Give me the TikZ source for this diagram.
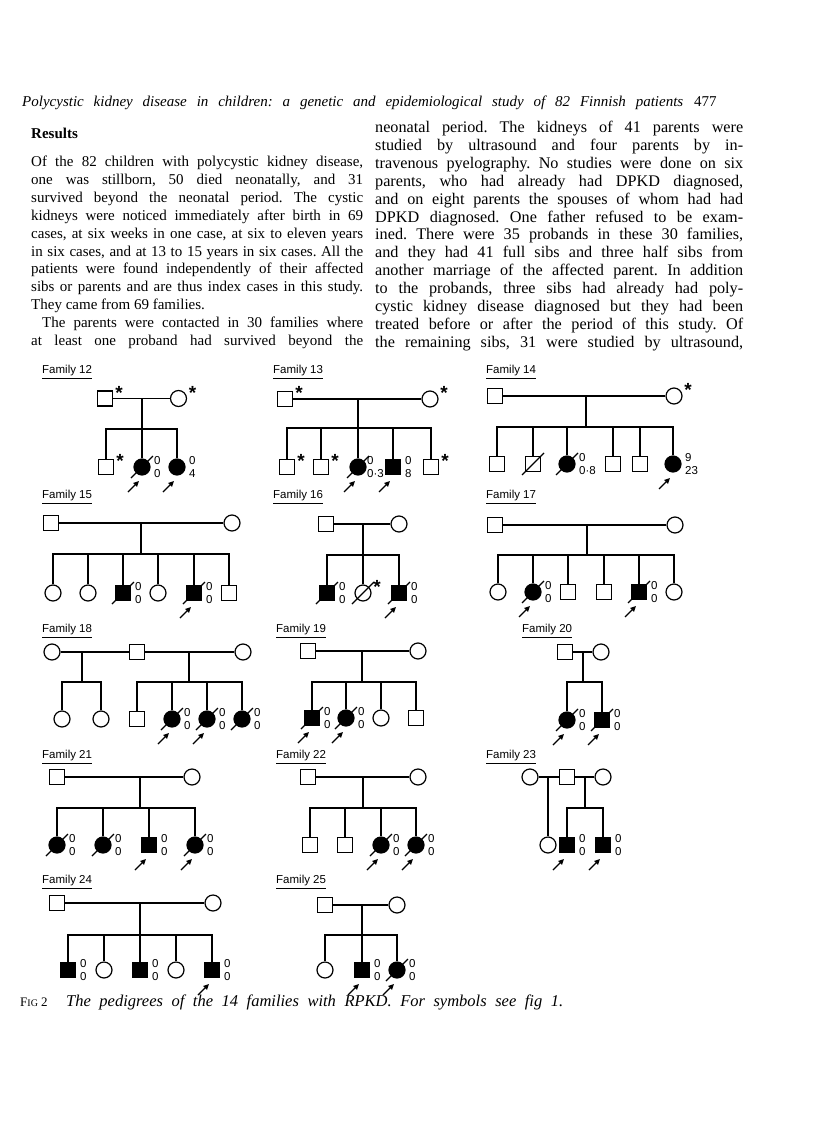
\documentclass[tikz,border=0pt]{standalone}
\usepackage{fontspec}
\setmainfont{Liberation Serif}
\newfontfamily\numfont{Liberation Sans}
\usetikzlibrary{calc,arrows.meta}
\newcommand\dcs[1]{\draw[pline] ($(#1.center)+(-11,11)$) -- ($(#1.center)+(11,-11)$);}
\newcommand\prb[1]{\draw[prob] ($(#1.center)+(-14,25)$) -- ($(#1.center)+(-3,14)$);}
\newcommand\nm[3]{\node[nums] (#1n) at ($(#1.center)+(12,0)$) {#2\\#3};}
\newcommand\str[1]{\node[star] (#1s) at ($(#1.center)+(14,-6)$) {*};}
\frenchspacing
\begin{document}
\begin{tikzpicture}[x=1pt,y=-1pt,
  male/.style={draw, line width=1.2pt, rectangle, minimum size=15pt, inner sep=0pt},
  female/.style={draw, line width=1.2pt, circle, minimum size=16pt, inner sep=0pt},
  aff/.style={fill=black},
  pline/.style={line width=1.2pt},
  prob/.style={line width=1.2pt, -{Triangle[length=5.5pt,width=5pt]}},
  nums/.style={font=\numfont\fontsize{11.5}{13}\selectfont, align=left, anchor=west, inner sep=0pt},
  star/.style={font=\numfont\bfseries\fontsize{19}{19}\selectfont, inner sep=0pt},
  fam/.style={font=\numfont\fontsize{11.5}{12}\selectfont, anchor=west, inner sep=0pt},
  btext/.style={font=\fontsize{15}{18}\selectfont, anchor=base west, inner sep=0pt},
  rtext/.style={font=\fontsize{16.2}{18}\selectfont, anchor=base west, inner sep=0pt},
  hdr/.style={font=\itshape\fontsize{15}{18}\selectfont, anchor=base west, inner sep=0pt}]
\fill[white] (0,0) rectangle (816,1142);
\useasboundingbox (0,0) rectangle (816,1142);

% header
\node[hdr] (head) at (22,107) {\makebox[661pt][s]{Polycystic kidney disease in children: a genetic and epidemiological study of 82 Finnish patients}};
\node[hdr, font=\fontsize{15}{18}\selectfont] (pageno) at (694,107) {477};

% left column
\node[btext, font=\bfseries\fontsize{15}{18}\selectfont] (res) at (31,139) {Results};
\node[btext] (L1) at (31,166.5) {\makebox[332pt][s]{Of the 82 children with polycystic kidney disease,}};
\node[btext] (L2) at (31,184.4) {\makebox[332pt][s]{one was stillborn, 50 died neonatally, and 31}};
\node[btext] (L3) at (31,202.3) {\makebox[332pt][s]{survived beyond the neonatal period. The cystic}};
\node[btext] (L4) at (31,220.2) {\makebox[332pt][s]{kidneys were noticed immediately after birth in 69}};
\node[btext] (L5) at (31,238.1) {\makebox[332pt][s]{cases, at six weeks in one case, at six to eleven years}};
\node[btext] (L6) at (31,256.0) {\makebox[332pt][s]{in six cases, and at 13 to 15 years in six cases. All the}};
\node[btext] (L7) at (31,273.9) {\makebox[332pt][s]{patients were found independently of their affected}};
\node[btext] (L8) at (31,291.8) {\makebox[332pt][s]{sibs or parents and are thus index cases in this study.}};
\node[btext] (L9) at (31,309.7) {They came from 69 families.};
\node[btext] (L10) at (31,327.6) {\makebox[332pt][s]{\hspace{11pt}The parents were contacted in 30 families where}};
\node[btext] (L11) at (31,345.5) {\makebox[332pt][s]{at least one proband had survived beyond the}};

% right column
\node[rtext] (R1) at (375,132.5) {\makebox[368pt][s]{neonatal period. The kidneys of 41 parents were}};
\node[rtext] (R2) at (375,150.4) {\makebox[368pt][s]{studied by ultrasound and four parents by in-}};
\node[rtext] (R3) at (375,168.3) {\makebox[368pt][s]{travenous pyelography. No studies were done on six}};
\node[rtext] (R4) at (375,186.2) {\makebox[368pt][s]{parents, who had already had DPKD diagnosed,}};
\node[rtext] (R5) at (375,204.1) {\makebox[368pt][s]{and on eight parents the spouses of whom had had}};
\node[rtext] (R6) at (375,222.0) {\makebox[368pt][s]{DPKD diagnosed. One father refused to be exam-}};
\node[rtext] (R7) at (375,239.9) {\makebox[368pt][s]{ined. There were 35 probands in these 30 families,}};
\node[rtext] (R8) at (375,257.8) {\makebox[368pt][s]{and they had 41 full sibs and three half sibs from}};
\node[rtext] (R9) at (375,275.7) {\makebox[368pt][s]{another marriage of the affected parent. In addition}};
\node[rtext] (R10) at (375,293.6) {\makebox[368pt][s]{to the probands, three sibs had already had poly-}};
\node[rtext] (R11) at (375,311.5) {\makebox[368pt][s]{cystic kidney disease diagnosed but they had been}};
\node[rtext] (R12) at (375,329.4) {\makebox[368pt][s]{treated before or after the period of this study. Of}};
\node[rtext] (R13) at (375,347.3) {\makebox[368pt][s]{the remaining sibs, 31 were studied by ultrasound,}};

% ---------------- Family 12
\node[fam] (t12) at (42,372) {\underline{Family 12}};
\node[male] (f12) at (105,398.5) {}; \str{f12}
\node[female] (m12) at (178.5,398.5) {}; \str{m12}
\coordinate (d12) at (142,398.5); \coordinate (s12) at (142,429);
\draw[pline] (f12) -- (m12); \draw[pline] (d12) -- (s12);
\node[male] (c12a) at (106,467) {}; \str{c12a}
\node[female,aff] (c12b) at (142,467) {}; \dcs{c12b} \nm{c12b}{0}{0} \prb{c12b}
\node[female,aff] (c12c) at (177,467) {}; \nm{c12c}{0}{4} \prb{c12c}
\draw[pline] (c12a) |- (s12) -| (c12c); \draw[pline] (c12b) -- (c12b |- s12);

% ---------------- Family 13
\node[fam] (t13) at (273,372) {\underline{Family 13}};
\node[male] (f13) at (285,399) {}; \str{f13}
\node[female] (m13) at (430,399) {}; \str{m13}
\coordinate (d13) at (358,399); \coordinate (s13) at (358,428);
\draw[pline] (f13) -- (m13); \draw[pline] (d13) -- (s13);
\node[male] (c13a) at (287,467) {}; \str{c13a}
\node[male] (c13b) at (321,467) {}; \str{c13b}
\node[female,aff] (c13c) at (358,467) {}; \dcs{c13c} \node[nums] (c13cn) at ($(c13c.center)+(9,0)$) {0\\0·3}; \prb{c13c}
\node[male,aff] (c13d) at (393,467) {}; \nm{c13d}{0}{8} \prb{c13d}
\node[male] (c13e) at (431,467) {}; \str{c13e}
\draw[pline] (c13a) |- (s13) -| (c13e);
\foreach \k in {b,c,d} \draw[pline] (c13\k) -- (c13\k |- s13);

% ---------------- Family 14
\node[fam] (t14) at (486,372) {\underline{Family 14}};
\node[male] (f14) at (495,396) {};
\node[female] (m14) at (674,396) {}; \str{m14}
\coordinate (d14) at (586,396); \coordinate (s14) at (586,427);
\draw[pline] (f14) -- (m14); \draw[pline] (d14) -- (s14);
\node[male] (c14a) at (497,464) {};
\node[male] (c14b) at (533,464) {}; \dcs{c14b}
\node[female,aff] (c14c) at (567,464) {}; \dcs{c14c} \nm{c14c}{0}{0·8}
\node[male] (c14d) at (613,464) {};
\node[male] (c14e) at (640,464) {};
\node[female,aff] (c14f) at (673,464) {}; \nm{c14f}{9}{23} \prb{c14f}
\draw[pline] (c14a) |- (s14) -| (c14f);
\foreach \k in {b,c,d,e} \draw[pline] (c14\k) -- (c14\k |- s14);

% ---------------- Family 15
\node[fam] (t15) at (42,497) {\underline{Family 15}};
\node[male] (f15) at (51,523) {};
\node[female] (m15) at (232,523) {};
\coordinate (d15) at (141,523); \coordinate (s15) at (141,554);
\draw[pline] (f15) -- (m15); \draw[pline] (d15) -- (s15);
\node[female] (c15a) at (53,593) {};
\node[female] (c15b) at (88,593) {};
\node[male,aff] (c15c) at (123,593) {}; \dcs{c15c} \nm{c15c}{0}{0}
\node[female] (c15d) at (158,593) {};
\node[male,aff] (c15e) at (194,593) {}; \dcs{c15e} \nm{c15e}{0}{0} \prb{c15e}
\node[male] (c15f) at (229,593) {};
\draw[pline] (c15a) |- (s15) -| (c15f);
\foreach \k in {b,c,d,e} \draw[pline] (c15\k) -- (c15\k |- s15);

% ---------------- Family 16
\node[fam] (t16) at (273,497) {\underline{Family 16}};
\node[male] (f16) at (326,524) {};
\node[female] (m16) at (399,524) {};
\coordinate (d16) at (363,524); \coordinate (s16) at (363,555);
\draw[pline] (f16) -- (m16); \draw[pline] (d16) -- (s16);
\node[male,aff] (c16a) at (327,593) {}; \dcs{c16a} \nm{c16a}{0}{0}
\node[female] (c16b) at (363,593) {}; \dcs{c16b} \str{c16b}
\node[male,aff] (c16c) at (399,593) {}; \dcs{c16c} \nm{c16c}{0}{0} \prb{c16c}
\draw[pline] (c16a) |- (s16) -| (c16c); \draw[pline] (c16b) -- (c16b |- s16);

% ---------------- Family 17
\node[fam] (t17) at (486,497) {\underline{Family 17}};
\node[male] (f17) at (495,525) {};
\node[female] (m17) at (675,525) {};
\coordinate (d17) at (587,525); \coordinate (s17) at (587,555);
\draw[pline] (f17) -- (m17); \draw[pline] (d17) -- (s17);
\node[female] (c17a) at (498,592) {};
\node[female,aff] (c17b) at (533,592) {}; \dcs{c17b} \nm{c17b}{0}{0} \prb{c17b}
\node[male] (c17c) at (568,592) {};
\node[male] (c17d) at (604,592) {};
\node[male,aff] (c17e) at (639,592) {}; \dcs{c17e} \nm{c17e}{0}{0} \prb{c17e}
\node[female] (c17f) at (674,592) {};
\draw[pline] (c17a) |- (s17) -| (c17f);
\foreach \k in {b,c,d,e} \draw[pline] (c17\k) -- (c17\k |- s17);

% ---------------- Family 18
\node[fam] (t18) at (42,631) {\underline{Family 18}};
\node[female] (w18a) at (52,652) {};
\node[male] (h18) at (137,652) {};
\node[female] (w18b) at (243,652) {};
\draw[pline] (w18a) -- (h18); \draw[pline] (h18) -- (w18b);
\coordinate (d18a) at (82,652); \coordinate (s18a) at (82,682);
\coordinate (d18b) at (189,652); \coordinate (s18b) at (189,682);
\draw[pline] (d18a) -- (s18a); \draw[pline] (d18b) -- (s18b);
\node[female] (c18a) at (62,719) {};
\node[female] (c18b) at (101,719) {};
\draw[pline] (c18a) |- (s18a) -| (c18b);
\node[male] (c18c) at (137,719) {};
\node[female,aff] (c18d) at (172,719) {}; \dcs{c18d} \nm{c18d}{0}{0} \prb{c18d}
\node[female,aff] (c18e) at (207,719) {}; \dcs{c18e} \nm{c18e}{0}{0} \prb{c18e}
\node[female,aff] (c18f) at (242,719) {}; \dcs{c18f} \nm{c18f}{0}{0}
\draw[pline] (c18c) |- (s18b) -| (c18f);
\foreach \k in {d,e} \draw[pline] (c18\k) -- (c18\k |- s18b);

% ---------------- Family 19
\node[fam] (t19) at (276,631) {\underline{Family 19}};
\node[male] (f19) at (308,651) {};
\node[female] (m19) at (418,651) {};
\coordinate (d19) at (362,651); \coordinate (s19) at (362,682);
\draw[pline] (f19) -- (m19); \draw[pline] (d19) -- (s19);
\node[male,aff] (c19a) at (312,718) {}; \dcs{c19a} \nm{c19a}{0}{0} \prb{c19a}
\node[female,aff] (c19b) at (346,718) {}; \dcs{c19b} \nm{c19b}{0}{0} \prb{c19b}
\node[female] (c19c) at (381,718) {};
\node[male] (c19d) at (416,718) {};
\draw[pline] (c19a) |- (s19) -| (c19d);
\foreach \k in {b,c} \draw[pline] (c19\k) -- (c19\k |- s19);

% ---------------- Family 20
\node[fam] (t20) at (522,631) {\underline{Family 20}};
\node[male] (f20) at (565,652) {};
\node[female] (m20) at (601,652) {};
\coordinate (d20) at (583,652); \coordinate (s20) at (583,682);
\draw[pline] (f20) -- (m20); \draw[pline] (d20) -- (s20);
\node[female,aff] (c20a) at (567,720) {}; \dcs{c20a} \nm{c20a}{0}{0} \prb{c20a}
\node[male,aff] (c20b) at (602,720) {}; \dcs{c20b} \nm{c20b}{0}{0} \prb{c20b}
\draw[pline] (c20a) |- (s20) -| (c20b);

% ---------------- Family 21
\node[fam] (t21) at (42,757) {\underline{Family 21}};
\node[male] (f21) at (57,777) {};
\node[female] (m21) at (192,777) {};
\coordinate (d21) at (140,777); \coordinate (s21) at (140,808);
\draw[pline] (f21) -- (m21); \draw[pline] (d21) -- (s21);
\node[female,aff] (c21a) at (57,845) {}; \dcs{c21a} \nm{c21a}{0}{0}
\node[female,aff] (c21b) at (103,845) {}; \dcs{c21b} \nm{c21b}{0}{0}
\node[male,aff] (c21c) at (149,845) {}; \nm{c21c}{0}{0} \prb{c21c}
\node[female,aff] (c21d) at (195,845) {}; \dcs{c21d} \nm{c21d}{0}{0} \prb{c21d}
\draw[pline] (c21a) |- (s21) -| (c21d);
\foreach \k in {b,c} \draw[pline] (c21\k) -- (c21\k |- s21);

% ---------------- Family 22
\node[fam] (t22) at (276,757) {\underline{Family 22}};
\node[male] (f22) at (308,777) {};
\node[female] (m22) at (418,777) {};
\coordinate (d22) at (363,777); \coordinate (s22) at (363,808);
\draw[pline] (f22) -- (m22); \draw[pline] (d22) -- (s22);
\node[male] (c22a) at (310,845) {};
\node[male] (c22b) at (345,845) {};
\node[female,aff] (c22c) at (381,845) {}; \dcs{c22c} \nm{c22c}{0}{0} \prb{c22c}
\node[female,aff] (c22d) at (416,845) {}; \dcs{c22d} \nm{c22d}{0}{0} \prb{c22d}
\draw[pline] (c22a) |- (s22) -| (c22d);
\foreach \k in {b,c} \draw[pline] (c22\k) -- (c22\k |- s22);

% ---------------- Family 23
\node[fam] (t23) at (486,757) {\underline{Family 23}};
\node[female] (w23a) at (530,777) {};
\node[male] (h23) at (567,777) {};
\node[female] (w23b) at (603,777) {};
\draw[pline] (w23a) -- (h23); \draw[pline] (h23) -- (w23b);
\coordinate (d23a) at (548,777); \coordinate (d23b) at (585,777); \coordinate (s23) at (585,808);
\node[female] (c23a) at (548,845) {};
\draw[pline] (d23a) -- (c23a); \draw[pline] (d23b) -- (s23);
\node[male,aff] (c23b) at (567,845) {}; \nm{c23b}{0}{0} \prb{c23b}
\node[male,aff] (c23c) at (603,845) {}; \nm{c23c}{0}{0} \prb{c23c}
\draw[pline] (c23b) |- (s23) -| (c23c);

% ---------------- Family 24
\node[fam] (t24) at (42,882) {\underline{Family 24}};
\node[male] (f24) at (57,903) {};
\node[female] (m24) at (213,903) {};
\coordinate (d24) at (140,903); \coordinate (s24) at (140,935);
\draw[pline] (f24) -- (m24); \draw[pline] (d24) -- (s24);
\node[male,aff] (c24a) at (68,970) {}; \nm{c24a}{0}{0}
\node[female] (c24b) at (104,970) {};
\node[male,aff] (c24c) at (140,970) {}; \nm{c24c}{0}{0}
\node[female] (c24d) at (176,970) {};
\node[male,aff] (c24e) at (212,970) {}; \nm{c24e}{0}{0} \prb{c24e}
\draw[pline] (c24a) |- (s24) -| (c24e);
\foreach \k in {b,c,d} \draw[pline] (c24\k) -- (c24\k |- s24);

% ---------------- Family 25
\node[fam] (t25) at (276,882) {\underline{Family 25}};
\node[male] (f25) at (325,905) {};
\node[female] (m25) at (397,905) {};
\coordinate (d25) at (362,905); \coordinate (s25) at (362,935);
\draw[pline] (f25) -- (m25); \draw[pline] (d25) -- (s25);
\node[female] (c25a) at (325,970) {};
\node[male,aff] (c25b) at (362,970) {}; \nm{c25b}{0}{0} \prb{c25b}
\node[female,aff] (c25c) at (397,970) {}; \dcs{c25c} \nm{c25c}{0}{0} \prb{c25c}
\draw[pline] (c25a) |- (s25) -| (c25c); \draw[pline] (c25b) -- (c25b |- s25);

% caption
\node[btext, font=\fontsize{13}{14}\selectfont] (figno) at (20,1006) {F{\fontsize{10}{12}\selectfont IG} 2};
\node[btext, font=\itshape\fontsize{16.5}{18}\selectfont] (cap) at (66,1006) {\makebox[497pt][s]{The pedigrees of the 14 families with RPKD. For symbols see fig 1.}};
\end{tikzpicture}
\end{document}
